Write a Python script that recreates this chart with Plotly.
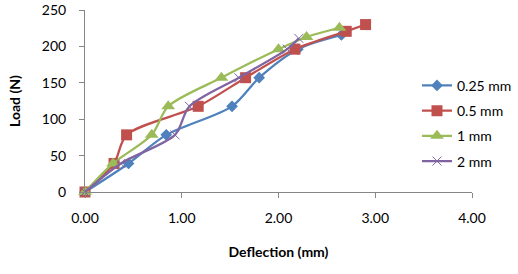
import plotly.graph_objects as go

x_025 = [0.0, 0.45, 0.84, 1.52, 1.80, 2.20, 2.65]
y_025 = [0.0, 39.2, 78.5, 117.7, 157.0, 196.2, 215.8]

x_05 = [0.0, 0.30, 0.43, 1.17, 1.66, 2.17, 2.70, 2.90]
y_05 = [0.0, 39.2, 78.5, 117.7, 157.0, 196.2, 220.7, 230.0]

x_1 = [0.0, 0.29, 0.69, 0.86, 1.41, 2.00, 2.29, 2.63]
y_1 = [0.0, 39.2, 78.5, 117.7, 157.0, 196.2, 213.0, 225.6]

x_2 = [0.0, 0.37, 0.93, 1.08, 1.59, 2.09, 2.21]
y_2 = [0.0, 39.2, 78.5, 117.7, 157.0, 196.2, 211.0]

names = ["0.25 mm", "0.5 mm", "1 mm", "2 mm"]
colors = ["#4F81BD", "#C0504D", "#9BBB59", "#8064A2"]
symbols = ["diamond", "square", "triangle-up", "x-thin"]
sizes = [9, 11, 12, 9]

series = [(x_025, y_025), (x_05, y_05), (x_1, y_1), (x_2, y_2)]

FONT = "Lato"
FS = 14

fig = go.Figure()
for i, (xs, ys) in enumerate(series):
    marker = dict(symbol=symbols[i], size=sizes[i], color=colors[i])
    if symbols[i] == "x-thin":
        marker["line"] = dict(color=colors[i], width=1)
    fig.add_trace(go.Scatter(
        x=xs, y=ys, name=names[i], mode="lines+markers",
        line=dict(color=colors[i], width=2.25, shape="spline", smoothing=0.8),
        marker=marker, cliponaxis=False, legendgroup=names[i],
    ))

axis_common = dict(
    showline=True, linecolor="#868686", linewidth=1,
    ticks="outside", ticklen=5, tickcolor="#868686",
    showgrid=False, zeroline=False, automargin=False,
    tickfont=dict(family=FONT, size=FS, color="black"),
)

fig.update_layout(
    width=518, height=274,
    margin=dict(l=85, r=46, t=10, b=82, autoexpand=False),
    paper_bgcolor="white", plot_bgcolor="white",
    font=dict(family=FONT, size=FS, color="black"),
    showlegend=True,
    legend=dict(
        xref="container", yref="container",
        x=0.805, y=0.745, xanchor="left", yanchor="top",
        font=dict(family=FONT, size=FS, color="black"),
        tracegroupgap=4, bgcolor="rgba(0,0,0,0)",
    ),
    xaxis=dict(
        range=[0, 4], tickvals=[0, 1, 2, 3, 4], tickformat=".2f",
        ticklabelstandoff=8,
        title=dict(text="<b>Deflection (mm)</b>", font=dict(family=FONT, size=FS), standoff=22),
        **axis_common,
    ),
    yaxis=dict(
        range=[0, 250], tickvals=[0, 50, 100, 150, 200, 250],
        ticklabelstandoff=10,
        title=dict(text="<b>Load (N)</b>", font=dict(family=FONT, size=FS), standoff=17),
        **axis_common,
    ),
)

fig.write_html("out.html", config={"displayModeBar": False},
               post_script="document.body.style.margin='0';")
